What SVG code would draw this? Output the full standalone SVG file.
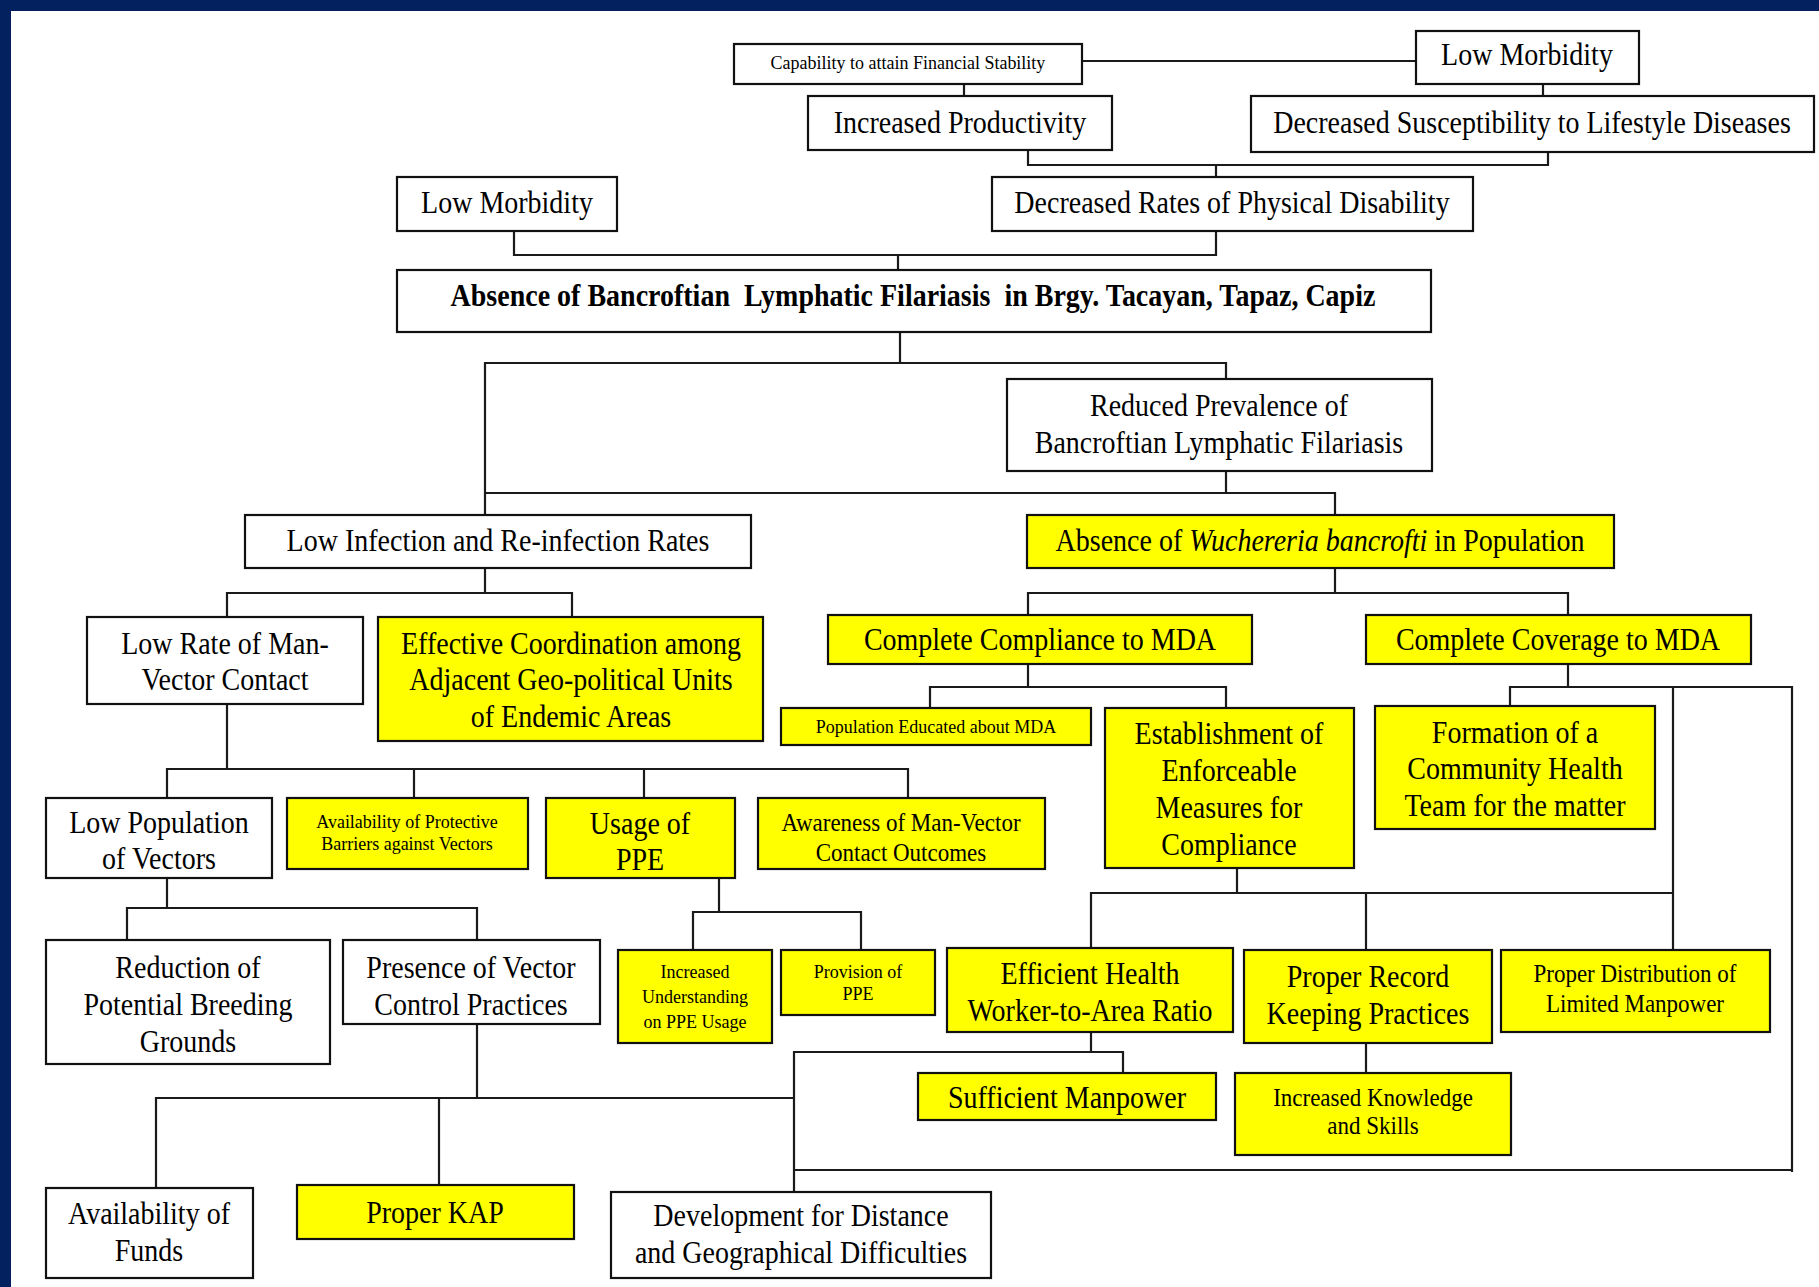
<svg xmlns="http://www.w3.org/2000/svg" width="1819" height="1287" viewBox="0 0 1819 1287">
<style>
.n{fill:#fff;stroke:#111;stroke-width:2.2}
.y{fill:#ffff00;stroke:#111;stroke-width:2.2}
text{font-family:"Liberation Serif","Times New Roman",serif;fill:#000;text-anchor:middle;white-space:pre;transform-box:fill-box;transform-origin:center;transform:scaleY(1.1)}
.t{font-size:28px}
.b{font-size:28px;font-weight:bold}
.m{font-size:23px}
.s{font-size:18px}
.c{fill:none;stroke:#1a1a1a;stroke-width:2.2}
</style>
<rect x="0" y="0" width="1819" height="1287" fill="#03215f"/>
<rect x="11" y="11" width="1808" height="1276" fill="#fff"/>

<g id="connectors" class="c">
<path d="M1082,61H1416"/>
<path d="M964,84V96"/>
<path d="M1543,84V96"/>
<path d="M1028,150V165H1548V152"/>
<path d="M1216,165V177"/>
<path d="M514,231V255H1216V231"/>
<path d="M898,255V270"/>
<path d="M900,332V363"/>
<path d="M485,515V363H1226V379"/>
<path d="M1226,471V493"/>
<path d="M485,493H1335V515"/>
<path d="M485,568V593"/>
<path d="M227,617V593H572V617"/>
<path d="M1335,568V593"/>
<path d="M1028,615V593H1568V615"/>
<path d="M1028,664V687"/>
<path d="M930,708V687H1226V708"/>
<path d="M1568,664V687"/>
<path d="M1510,706V687H1792V1172"/>
<path d="M1673,687V950"/>
<path d="M227,704V769"/>
<path d="M167,798V769H908V798"/>
<path d="M414,769V798"/>
<path d="M644,769V798"/>
<path d="M167,878V908"/>
<path d="M127,940V908H477V940"/>
<path d="M719,878V912"/>
<path d="M693,950V912H861V950"/>
<path d="M1237,868V893"/>
<path d="M1091,948V893H1673"/>
<path d="M1366,893V950"/>
<path d="M1091,1032V1052"/>
<path d="M794,1192V1052H1123V1073"/>
<path d="M1366,1043V1073"/>
<path d="M477,1024V1098"/>
<path d="M156,1188V1098H794"/>
<path d="M439,1098V1185"/>
<path d="M794,1170H1792"/>
</g>

<g id="capability"><rect class="n" x="734" y="44" width="348" height="40"/><text class="s" x="908" y="68">Capability to attain Financial Stability</text></g>
<g id="low-morbidity-top"><rect class="n" x="1416" y="31" width="223" height="53"/><text class="t" x="1527" y="64">Low Morbidity</text></g>
<g id="increased-productivity"><rect class="n" x="808" y="96" width="304" height="54"/><text class="t" x="960" y="132">Increased Productivity</text></g>
<g id="decreased-susceptibility"><rect class="n" x="1251" y="96" width="563" height="56"/><text class="t" x="1532" y="132">Decreased Susceptibility to Lifestyle Diseases</text></g>
<g id="low-morbidity-left"><rect class="n" x="397" y="177" width="220" height="54"/><text class="t" x="507" y="212">Low Morbidity</text></g>
<g id="decreased-rates"><rect class="n" x="992" y="177" width="481" height="54"/><text class="t" x="1232" y="212">Decreased Rates of Physical Disability</text></g>
<g id="absence-lf"><rect class="n" x="397" y="270" width="1034" height="62"/><text class="b" x="913" y="305">Absence of Bancroftian  Lymphatic Filariasis  in Brgy. Tacayan, Tapaz, Capiz</text></g>
<g id="reduced-prevalence"><rect class="n" x="1007" y="379" width="425" height="92"/><text class="t" x="1219" y="415">Reduced Prevalence of</text><text class="t" x="1219" y="452">Bancroftian Lymphatic Filariasis</text></g>
<g id="low-infection"><rect class="n" x="245" y="515" width="506" height="53"/><text class="t" x="498" y="550">Low Infection and Re-infection Rates</text></g>
<g id="absence-wb"><rect class="y" x="1027" y="515" width="587" height="53"/><text class="t" x="1320" y="550">Absence of <tspan font-style="italic">Wuchereria bancrofti</tspan> in Population</text></g>
<g id="low-rate"><rect class="n" x="87" y="617" width="276" height="87"/><text class="t" x="225" y="653">Low Rate of Man-</text><text class="t" x="225" y="689">Vector Contact</text></g>
<g id="effective-coordination"><rect class="y" x="378" y="617" width="385" height="124"/><text class="t" x="571" y="653">Effective Coordination among</text><text class="t" x="571" y="689">Adjacent Geo-political Units</text><text class="t" x="571" y="726">of Endemic Areas</text></g>
<g id="complete-compliance"><rect class="y" x="828" y="615" width="424" height="49"/><text class="t" x="1040" y="649">Complete Compliance to MDA</text></g>
<g id="complete-coverage"><rect class="y" x="1366" y="615" width="385" height="49"/><text class="t" x="1558" y="649">Complete Coverage to MDA</text></g>
<g id="population-educated"><rect class="y" x="781" y="708" width="310" height="37"/><text class="s" x="936" y="732">Population Educated about MDA</text></g>
<g id="establishment"><rect class="y" x="1105" y="708" width="249" height="160"/><text class="t" x="1229" y="743">Establishment of</text><text class="t" x="1229" y="780">Enforceable</text><text class="t" x="1229" y="817">Measures for</text><text class="t" x="1229" y="854">Compliance</text></g>
<g id="formation"><rect class="y" x="1375" y="706" width="280" height="123"/><text class="t" x="1515" y="742">Formation of a</text><text class="t" x="1515" y="778">Community Health</text><text class="t" x="1515" y="815">Team for the matter</text></g>
<g id="low-population"><rect class="n" x="46" y="798" width="226" height="80"/><text class="t" x="159" y="832">Low Population</text><text class="t" x="159" y="868">of Vectors</text></g>
<g id="protective-barriers"><rect class="y" x="287" y="798" width="241" height="71"/><text class="s" x="407" y="827">Availability of Protective</text><text class="s" x="407" y="849">Barriers against Vectors</text></g>
<g id="usage-ppe"><rect class="y" x="546" y="798" width="189" height="80"/><text class="t" x="640" y="833">Usage of</text><text class="t" x="640" y="869">PPE</text></g>
<g id="awareness"><rect class="y" x="758" y="798" width="287" height="71"/><text class="m" x="901" y="830">Awareness of Man-Vector</text><text class="m" x="901" y="860">Contact Outcomes</text></g>
<g id="reduction"><rect class="n" x="46" y="940" width="284" height="124"/><text class="t" x="188" y="977">Reduction of</text><text class="t" x="188" y="1014">Potential Breeding</text><text class="t" x="188" y="1051">Grounds</text></g>
<g id="presence"><rect class="n" x="343" y="940" width="257" height="84"/><text class="t" x="471" y="977">Presence of Vector</text><text class="t" x="471" y="1014">Control Practices</text></g>
<g id="increased-understanding"><rect class="y" x="618" y="950" width="154" height="93"/><text class="s" x="695" y="977">Increased</text><text class="s" x="695" y="1002">Understanding</text><text class="s" x="695" y="1027">on PPE Usage</text></g>
<g id="provision-ppe"><rect class="y" x="781" y="950" width="154" height="65"/><text class="s" x="858" y="977">Provision of</text><text class="s" x="858" y="999">PPE</text></g>
<g id="efficient-health"><rect class="y" x="947" y="948" width="286" height="84"/><text class="t" x="1090" y="983">Efficient Health</text><text class="t" x="1090" y="1020">Worker-to-Area Ratio</text></g>
<g id="proper-record"><rect class="y" x="1244" y="950" width="248" height="93"/><text class="t" x="1368" y="986">Proper Record</text><text class="t" x="1368" y="1023">Keeping Practices</text></g>
<g id="proper-distribution"><rect class="y" x="1501" y="950" width="269" height="82"/><text class="m" x="1635" y="981">Proper Distribution of</text><text class="m" x="1635" y="1011">Limited Manpower</text></g>
<g id="sufficient-manpower"><rect class="y" x="918" y="1073" width="298" height="47"/><text class="t" x="1067" y="1107">Sufficient Manpower</text></g>
<g id="increased-knowledge"><rect class="y" x="1235" y="1073" width="276" height="82"/><text class="m" x="1373" y="1105">Increased Knowledge</text><text class="m" x="1373" y="1133">and Skills</text></g>
<g id="availability-funds"><rect class="n" x="46" y="1188" width="207" height="90"/><text class="t" x="149" y="1223">Availability of</text><text class="t" x="149" y="1260">Funds</text></g>
<g id="proper-kap"><rect class="y" x="297" y="1185" width="277" height="54"/><text class="t" x="435" y="1222">Proper KAP</text></g>
<g id="development"><rect class="n" x="611" y="1192" width="380" height="86"/><text class="t" x="801" y="1225">Development for Distance</text><text class="t" x="801" y="1262">and Geographical Difficulties</text></g>
</svg>
